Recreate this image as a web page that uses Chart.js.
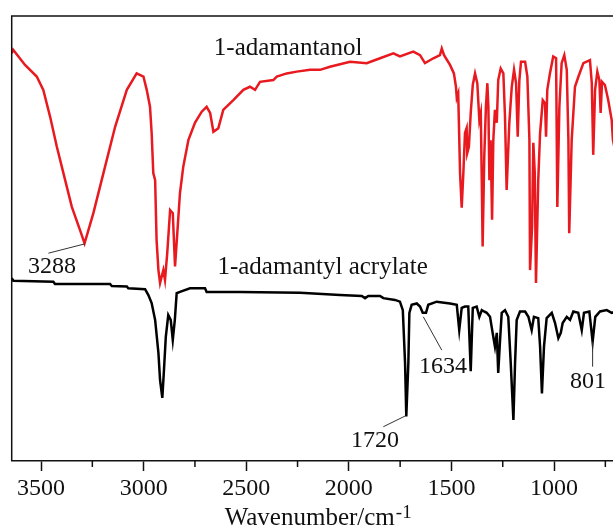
<!DOCTYPE html>
<html><head><meta charset="utf-8">
<script src="https://cdn.jsdelivr.net/npm/chart.js@4/dist/chart.umd.min.js"></script>
<style>html,body{margin:0;padding:0;overflow:hidden;background:#fff;width:613px;height:526px}canvas{display:block}</style>
</head><body>
<canvas id="c" width="630" height="526"></canvas>
<script>
// 1-adamantanol (red) : wavenumber / relative transmittance
const adamantanolWn = [3643,3636,3578,3521,3489,3456,3423,3391,3350,3310,3288,3245,3196,3139,3082,3034,3001,2985,2969,2961,2953,2944,2937,2928,2920,2913,2904,2896,2885,2871,2858,2847,2836,2823,2807,2782,2750,2717,2693,2676,2660,2636,2612,2563,2514,2482,2457,2433,2368,2351,2303,2254,2189,2140,2092,1994,1913,1848,1783,1751,1686,1653,1629,1588,1556,1547,1536,1507,1488,1478,1474,1467,1458,1450,1442,1434,1426,1423,1415,1406,1396,1385,1374,1364,1357,1352,1348,1340,1332,1325,1320,1315,1309,1302,1296,1288,1279,1272,1260,1247,1239,1231,1218,1206,1195,1185,1177,1169,1161,1141,1130,1120,1117,1107,1101,1094,1088,1077,1068,1055,1044,1039,1033,1020,1004,990,984,974,963,950,938,930,926,914,898,881,857,825,816,809,800,789,779,773,766,752,736,719,713,703];
const adamantanolT = [91.6,92.4,89.0,86.4,83.4,77.4,70.6,64.7,57.1,51.9,48.9,55.7,64.7,75.1,83.4,87.1,86.4,83.4,79.6,73.7,64.7,63.1,49.7,42.9,40.0,41.3,42.9,40.7,46.7,56.4,55.7,43.7,51.2,60.2,66.1,72.1,76.0,78.5,79.6,78.2,74.0,74.8,78.9,81.1,83.4,84.1,83.4,85.2,85.6,86.4,87.1,87.5,87.9,87.9,88.6,89.7,89.4,90.5,91.6,90.9,92.0,91.2,89.4,90.5,91.2,92.7,91.2,89.0,87.1,84.1,81.6,82.6,64.7,56.9,64.7,73.7,74.8,69.2,70.6,78.2,84.5,87.1,84.9,76.6,78.2,62.5,48.2,68.4,79.6,84.9,79.6,63.1,72.1,54.2,72.1,78.9,76.0,85.6,88.2,87.1,77.4,60.9,76.0,84.1,87.9,84.9,72.9,85.6,89.7,89.7,86.4,72.1,42.9,52.7,71.5,64.7,40.0,63.1,73.7,81.1,80.4,72.9,83.4,87.1,90.9,90.5,57.1,79.6,89.4,91.2,87.9,72.1,51.2,72.1,84.1,86.4,89.4,90.1,84.9,68.8,83.4,87.5,85.6,78.2,85.2,84.5,81.1,76.6,72.1,69.9];
// 1-adamantyl acrylate (black)
const acrylateWn = [3643,3635,3440,3432,3164,3155,3082,3075,2993,2977,2961,2944,2928,2920,2909,2901,2892,2880,2868,2858,2848,2839,2823,2774,2701,2693,2530,2238,2043,1937,1921,1905,1848,1832,1775,1751,1737,1726,1720,1710,1705,1694,1669,1653,1640,1624,1613,1572,1507,1474,1462,1450,1434,1418,1406,1396,1377,1364,1352,1341,1328,1312,1296,1288,1279,1272,1263,1255,1239,1223,1211,1198,1190,1182,1166,1141,1125,1109,1098,1077,1068,1059,1049,1036,1011,995,979,967,958,938,922,906,882,865,854,828,812,799,776,743,719,703];
const acrylateT = [41.1,40.5,40.3,39.8,39.8,39.3,39.2,38.8,38.6,37.3,35.5,31.7,24.3,18.2,14.2,20.4,27.9,32.8,31.7,27.2,31.7,37.7,38.0,38.8,38.8,38.0,38.0,37.8,37.3,37.1,36.6,37.1,37.1,36.6,36.2,35.8,33.9,22.0,10.0,22.0,33.3,35.1,35.4,34.7,33.3,33.3,35.1,35.8,35.4,35.1,29.4,34.4,34.7,34.7,20.2,34.4,34.7,32.4,33.9,33.6,33.3,32.4,27.9,25.7,28.8,19.8,27.2,33.3,33.9,32.4,22.0,9.2,22.0,31.7,33.6,33.6,32.4,29.4,32.4,32.1,25.7,15.2,25.7,32.1,33.3,31.0,27.6,28.8,31.0,32.4,31.7,33.6,33.3,29.4,33.3,33.6,26.8,32.4,33.6,33.9,33.3,33.5];

const majorTicks = [3500,3000,2500,2000,1500,1000];
const minorTicks = [3250,2750,2250,1750,1250,750];
const seriesNames = ['1-adamantanol','1-adamantyl acrylate'];
const seriesLabelPos = [[2296,92.6],[2128,43.6]];
const peakLabels = ['3288','1720','1634','801'];
const peakTextPos = [[3446,43.6],[1872,4.5],[1541,21.1],[835,17.8]];
const peakLineFrom = [[3464,46.7],[1832,7.7],[1547,24.9],[812,21.2]];
const peakLineTo = [[3286,48.8],[1726,10.1],[1637,32.4],[812,26.8]];
const axisTitle = 'Wavenumber/cm';
const axisTitleSup = '-1';

const FONT = '"Liberation Serif", "Times New Roman", serif';
const toPts = (xs, ys) => xs.map((x, i) => ({x: x, y: ys[i]}));

const decor = {
  id: 'decor',
  afterDraw(chart) {
    const {ctx, chartArea: a, scales: {x, y}} = chart;
    ctx.save();
    ctx.strokeStyle = '#111';
    ctx.lineWidth = 1.5;
    ctx.beginPath();
    ctx.moveTo(a.left, a.bottom);
    ctx.lineTo(a.left, a.top);
    ctx.lineTo(a.right + 20, a.top);
    ctx.stroke();
    ctx.beginPath();
    minorTicks.forEach(v => {
      const px = x.getPixelForValue(v);
      ctx.moveTo(px, a.bottom);
      ctx.lineTo(px, a.bottom + 6);
    });
    ctx.stroke();
    // leader lines
    ctx.strokeStyle = '#333';
    ctx.lineWidth = 1;
    ctx.beginPath();
    peakLineFrom.forEach((p, i) => {
      const q = peakLineTo[i];
      ctx.moveTo(x.getPixelForValue(p[0]), y.getPixelForValue(p[1]));
      ctx.lineTo(x.getPixelForValue(q[0]), y.getPixelForValue(q[1]));
    });
    ctx.stroke();
    // texts
    ctx.fillStyle = '#111';
    ctx.textAlign = 'center';
    ctx.textBaseline = 'middle';
    ctx.font = '25px ' + FONT;
    seriesNames.forEach((t, i) => {
      ctx.fillText(t, x.getPixelForValue(seriesLabelPos[i][0]), y.getPixelForValue(seriesLabelPos[i][1]));
    });
    ctx.font = '24px ' + FONT;
    peakLabels.forEach((t, i) => {
      ctx.fillText(t, x.getPixelForValue(peakTextPos[i][0]), y.getPixelForValue(peakTextPos[i][1]));
    });
    // axis title with superscript
    ctx.textAlign = 'left';
    ctx.textBaseline = 'alphabetic';
    ctx.font = '25px ' + FONT;
    const w1 = ctx.measureText(axisTitle).width;
    ctx.font = '19px ' + FONT;
    const w2 = ctx.measureText(axisTitleSup).width;
    const cx = (a.left + a.right) / 2 + 4;
    const sx = cx - (w1 + w2) / 2;
    ctx.font = '25px ' + FONT;
    ctx.fillText(axisTitle, sx, a.bottom + 64);
    ctx.font = '19px ' + FONT;
    ctx.fillText(axisTitleSup, sx + w1 + 1, a.bottom + 57);
    ctx.restore();
  }
};

new Chart(document.getElementById('c'), {
  type: 'line',
  data: {
    datasets: [
      {label: seriesNames[0], data: toPts(adamantanolWn, adamantanolT), borderColor: '#e8191f', borderWidth: 2.5, pointRadius: 0, tension: 0, fill: false},
      {label: seriesNames[1], data: toPts(acrylateWn, acrylateT), borderColor: '#000', borderWidth: 2.5, pointRadius: 0, tension: 0, fill: false}
    ]
  },
  options: {
    responsive: false,
    animation: false,
    layout: {padding: {left: 11.7, top: 16, right: 14.4, bottom: 25}},
    plugins: {legend: {display: false}, tooltip: {enabled: false}},
    scales: {
      x: {
        type: 'linear', reverse: true, min: 700, max: 3643,
        afterBuildTicks: s => { s.ticks = majorTicks.concat(minorTicks).sort((p, q) => p - q).map(v => ({value: v})); },
        afterFit: s => { s.height = 40; },
        ticks: {
          callback: v => majorTicks.includes(v) ? String(v) : '',
          font: {family: FONT, size: 24}, color: '#111', padding: 3, maxRotation: 0, autoSkip: false
        },
        grid: {
          drawOnChartArea: false, drawTicks: true, tickLength: 10, tickWidth: 1.5,
          tickColor: c => (c.tick && majorTicks.includes(c.tick.value)) ? '#111' : 'rgba(0,0,0,0)'
        },
        border: {display: true, color: '#111', width: 1.5}
      },
      y: {display: false, min: 0, max: 100}
    }
  },
  plugins: [decor]
});
</script>
</body></html>
